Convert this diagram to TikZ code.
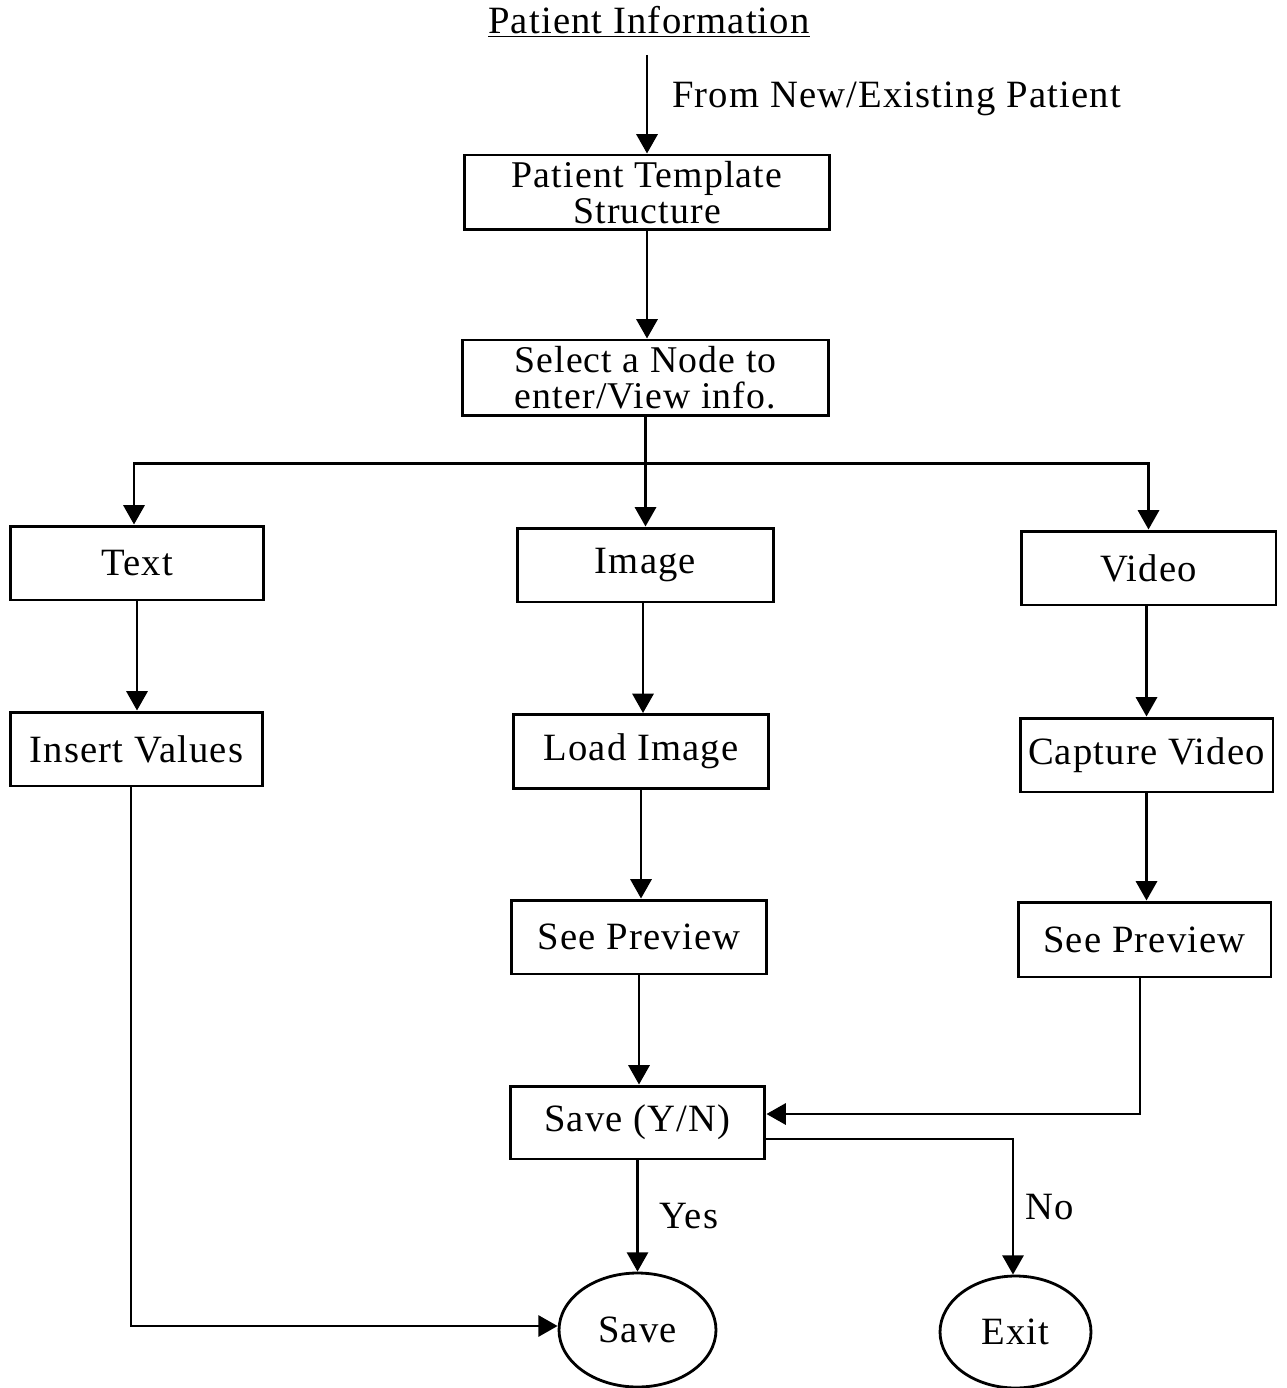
\documentclass[tikz,border=0pt]{standalone}
\usepackage{fontspec}
\setmainfont{Liberation Serif}[LetterSpace=3]
\usetikzlibrary{arrows.meta,shapes.geometric}
\begin{document}
\begin{tikzpicture}[x=0.02cm,y=-0.02cm,
  every node/.style={font=\fontsize{22}{20}\selectfont},
  box/.style={draw,line width=1.7pt,inner sep=0pt,align=center,
    minimum height=1.48cm},
  twoline/.style={font=\fontsize{21.5}{20.5}\selectfont},
  oval/.style={draw,ellipse,line width=1.6pt,inner sep=0pt},
  arr/.style={line width=1.6pt,-{Triangle[length=11pt,width=12pt]}},
  ln/.style={line width=1.6pt}]
\useasboundingbox (0,0) rectangle (1286,1388);

% title and entry
\node (title) at (649,22) {\underline{Patient Information}};
\node[anchor=west] (from) at (666,99) {From New/Existing Patient};

% boxes
\node[box,twoline,minimum width=7.32cm,minimum height=1.5cm] (b1) at (647,192.5) {Patient Template\\Structure};
\node[box,twoline,minimum width=7.34cm,minimum height=1.52cm] (b2) at (645.5,378) {Select a Node to\\enter/View info.};

\node[box,minimum width=5.08cm] (text)  at (137,563)   {Text};
\node[box,minimum width=5.12cm] (image) at (645.5,565) {Image};
\node[box,minimum width=5.10cm] (video) at (1148.5,568) {Video};

\node[box,minimum width=5.06cm] (ins)  at (136.5,749)  {Insert Values};
\node[box,minimum width=5.12cm] (load) at (641,751.5)  {Load Image};
\node[box,minimum width=5.06cm] (cap)  at (1146.5,755) {Capture Video};

\node[box,minimum width=5.12cm] (prevI) at (639,937)     {See Preview};
\node[box,minimum width=5.06cm,minimum height=1.5cm] (prevV) at (1144.5,939.5) {See Preview};

\node[box,minimum width=5.10cm,minimum height=1.46cm] (yn) at (637.5,1122.5) {Save (Y/N)};

\node[oval,minimum width=3.14cm,minimum height=2.28cm] (save) at (637.5,1330) {Save};
\node[oval,minimum width=3.02cm,minimum height=2.24cm] (exit) at (1015.5,1332) {Exit};

% connectors
\draw[arr] ([yshift=-0.22cm]b1.north |- title.south) -- (b1.north);
\draw[arr] (b1.south) -- (b1.south |- b2.north);
\coordinate (split) at ([yshift=-0.92cm]b2.south);
\draw[ln] (b2.south) -- (split);
\draw[arr] (split) -- (image.north);
\draw[arr] (split) -| ([xshift=-0.06cm]text.north);
\draw[arr] (split) -| (video.north);

\draw[arr] (text.south) -- (text.south |- ins.north);
\draw[arr] ([xshift=-0.05cm]image.south) -- ([xshift=-0.05cm]image.south |- load.north);
\draw[arr] ([xshift=-0.04cm]video.south) -- ([xshift=-0.04cm]video.south |- cap.north);

\draw[arr] (load.south) -- (load.south |- prevI.north);
\draw[arr] (cap.south) -- (cap.south |- prevV.north);

\draw[arr] (prevI.south) -- (prevI.south |- yn.north);
\draw[arr] ([xshift=-0.09cm]prevV.south) |- ([yshift=0.17cm]yn.east);

\draw[arr] (yn.south) -- (save.north) node[pos=0.5,right=0.3cm] (yes) {Yes};
\draw[arr] ([yshift=-0.33cm]yn.east) -| ([xshift=-0.05cm]exit.north) node[pos=0.75,right=0.1cm] (no) {No};

\draw[arr] ([xshift=-0.11cm]ins.south) |- ([yshift=0.08cm]save.west);
\end{tikzpicture}
\end{document}
